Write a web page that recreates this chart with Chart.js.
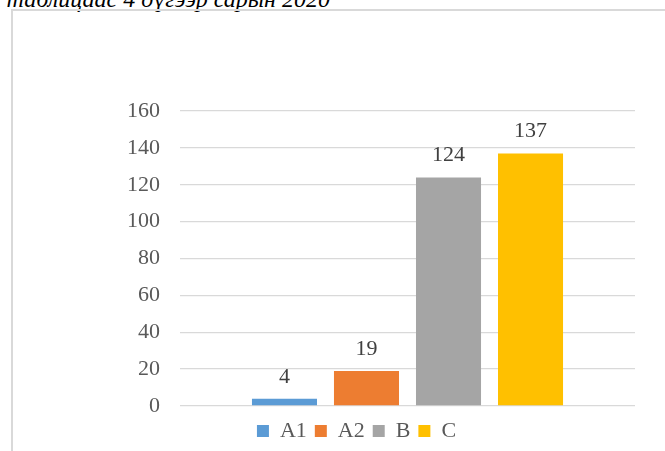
<!DOCTYPE html>
<html>
<head>
<meta charset="utf-8">
<script src="https://cdn.jsdelivr.net/npm/chart.js@4"></script>
<style>
  body { margin: 0; background: #fff; width: 665px; height: 451px; overflow: hidden; position: relative; font-family: "Liberation Serif", serif; }
  .caption { position: absolute; right: 335px; top: -12px; font-style: italic; font-size: 24px; line-height: 22px; white-space: nowrap; color: #000; font-family: "Liberation Serif", serif; }
  .frame { position: absolute; left: 11px; top: 9px; width: 700px; height: 500px; border: 2px solid #d9d9d9; }
  #wrap { position: absolute; left: 0; top: 0; width: 665px; height: 451px; }
</style>
</head>
<body>
<div class="caption">Хүснэгт таблицаас 4 дүгээр сарын 2020</div>
<div class="frame"></div>
<div id="wrap"><canvas id="levels"></canvas></div>
<script>
const seriesNames = ['A1', 'A2', 'B', 'C'];
const seriesValues = [4, 19, 124, 137];
const seriesColors = ['#5B9BD5', '#ED7D31', '#A5A5A5', '#FFC000'];
const yTicks = [0, 20, 40, 60, 80, 100, 120, 140, 160];

const FONT = '"Liberation Serif", serif';
const FONT_SIZE = 22;

// value labels above each column
const valueLabels = {
  id: 'valueLabels',
  afterDatasetsDraw(chart) {
    const ctx = chart.ctx;
    ctx.save();
    ctx.font = FONT_SIZE + 'px ' + FONT;
    ctx.fillStyle = '#404040';
    ctx.textAlign = 'center';
    ctx.textBaseline = 'alphabetic';
    chart.data.datasets.forEach((ds, i) => {
      chart.getDatasetMeta(i).data.forEach((bar, j) => {
        ctx.fillText(String(ds.data[j]), bar.x, bar.y - 16);
      });
    });
    ctx.restore();
  }
};

function draw() {
  new Chart(document.getElementById('levels'), {
    type: 'bar',
    data: {
      labels: [''],
      datasets: seriesNames.map((name, i) => ({
        label: name,
        data: [seriesValues[i]],
        backgroundColor: seriesColors[i],
        borderWidth: 0,
        barPercentage: 0.793,
        categoryPercentage: 0.721
      }))
    },
    options: {
      responsive: true,
      maintainAspectRatio: false,
      animation: false,
      layout: { padding: { left: 78, right: 30, top: 111, bottom: -1 } },
      scales: {
        // hidden x axis, kept only for the gap above the legend
        x: {
          display: true,
          border: { display: false },
          grid: { color: 'rgba(0,0,0,0)', drawTicks: true, tickLength: 6 },
          ticks: { display: false }
        },
        y: {
          min: 0,
          max: 160,
          afterFit(scale) { scale.width = 102; },
          afterBuildTicks(scale) { scale.ticks = yTicks.map(v => ({ value: v })); },
          border: { display: false },
          grid: { color: '#d9d9d9', lineWidth: 1.3, drawTicks: false },
          ticks: { padding: 20, color: '#595959', font: { family: FONT, size: FONT_SIZE } }
        }
      },
      plugins: {
        legend: {
          position: 'bottom',
          labels: {
            boxWidth: 12,
            boxHeight: 12,
            padding: 8,
            color: '#595959',
            font: { family: FONT, size: FONT_SIZE }
          }
        },
        tooltip: { enabled: false }
      }
    },
    plugins: [valueLabels]
  });
}

document.fonts.load(FONT_SIZE + 'px "Liberation Serif"').then(draw, draw);
</script>
</body>
</html>
